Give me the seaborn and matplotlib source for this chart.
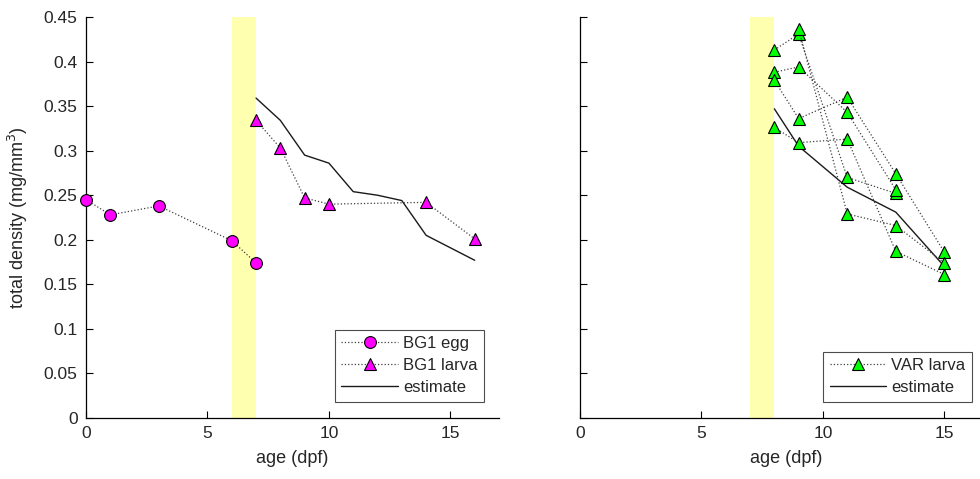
import matplotlib
matplotlib.use("Agg")
from matplotlib import pyplot as plt
from matplotlib.lines import Line2D
from matplotlib.ticker import FuncFormatter
import seaborn as sns
import numpy as np
import pandas as pd

# ---- data ----
egg_age = [0, 1, 3, 6, 7]
egg_density = [0.245, 0.228, 0.238, 0.199, 0.174]

bg1_larva_age = [7, 8, 9, 10, 14, 16]
bg1_larva_density = [0.334, 0.303, 0.247, 0.240, 0.242, 0.201]

bg1_est_age = [7, 8, 9, 10, 11, 12, 13, 14, 16]
bg1_est_density = [0.359, 0.334, 0.295, 0.286, 0.254, 0.250, 0.244, 0.205, 0.177]

# VAR larva, one list per dotted trace
var_age = {
    "a": [8, 9, 11, 13],
    "b": [8, 9, 11, 13],
    "c": [8, 9, 11, 13, 15],
    "d": [8, 9, 11, 13, 15],
    "e": [9, 11, 13, 15],
}
var_density = {
    "a": [0.413, 0.431, 0.270, 0.252],
    "b": [0.388, 0.394, 0.343, 0.256],
    "c": [0.379, 0.336, 0.360, 0.274, 0.186],
    "d": [0.326, 0.309, 0.313, 0.187, 0.161],
    "e": [0.437, 0.229, 0.216, 0.174],
}

var_est_age = [8, 9, 11, 13, 15]
var_est_density = [0.347, 0.305, 0.259, 0.231, 0.170]

bg1_window = (6, 7)
var_window = (7, 8)

# ---- style ----
sns.set_style("ticks")
plt.rcParams['font.family'] = ['Liberation Sans', 'DejaVu Sans']
plt.rcParams['font.size'] = 12.5

dot_col = (0.25, 0.25, 0.25)
est_col = (0.1, 0.1, 0.1)
pink = "#ff00ff"
green = "#00ff00"
span_col = "#ffffb0"
txt_col = (0.15, 0.15, 0.15)

circ_ms = 8.5
tri_ms = 9

fig = plt.figure(figsize=(9.8, 4.79), dpi=100)
ax1 = fig.add_axes([86 / 980, 61 / 479, 413 / 980, 401 / 479])
ax2 = fig.add_axes([580 / 980, 61 / 479, 413 / 980, 401 / 479])

fmt = FuncFormatter(lambda v, p: "%g" % round(v, 3))


def style_axes(ax, ylabels=True):
    ax.set_xlim(0, 17)
    ax.set_ylim(0, 0.45)
    ax.set_xticks([0, 5, 10, 15])
    ax.set_yticks(np.arange(0, 0.451, 0.05))
    ax.yaxis.set_major_formatter(fmt)
    if not ylabels:
        ax.set_yticklabels([])
    ax.tick_params(direction="in", length=5, width=0.8, colors="black",
                   labelcolor=txt_col, labelsize=12.5, pad=6)
    for s in ["top", "right"]:
        ax.spines[s].set_visible(False)
    for s in ["left", "bottom"]:
        ax.spines[s].set_linewidth(0.9)
        ax.spines[s].set_color("black")
    ax.set_xlabel("age (dpf)", fontsize=13, color=txt_col, labelpad=6)


def make_legend(ax, handles, labels, xanchor):
    leg = ax.legend(handles, labels, loc="lower right",
                    bbox_to_anchor=(xanchor, 0.04),
                    fancybox=False, framealpha=1, edgecolor=(0.3, 0.3, 0.3),
                    handlelength=3.4, fontsize=12, borderpad=0.4,
                    labelspacing=0.42, handletextpad=0.3, borderaxespad=0)
    leg.get_frame().set_linewidth(0.8)
    return leg


# ---- left panel: BG1 ----
ax1.axvspan(*bg1_window, color=span_col, lw=0, zorder=0)
sns.lineplot(x=egg_age, y=egg_density, ax=ax1, color=dot_col, linestyle=":",
             linewidth=0.9, marker="o", markersize=circ_ms, markerfacecolor=pink,
             markeredgecolor="black", markeredgewidth=0.8, sort=False,
             clip_on=False, zorder=3)
sns.lineplot(x=bg1_larva_age, y=bg1_larva_density, ax=ax1, color=dot_col,
             linestyle=":", linewidth=0.9, marker="^", markersize=tri_ms,
             markerfacecolor=pink, markeredgecolor="black",
             markeredgewidth=0.8, sort=False, clip_on=False, zorder=3)
sns.lineplot(x=bg1_est_age, y=bg1_est_density, ax=ax1, color=est_col,
             linewidth=1.0, sort=False)
style_axes(ax1)
ax1.set_ylabel("total density (mg/mm$^3$)", fontsize=13, color=txt_col,
               labelpad=10)

h_egg = Line2D([], [], color=dot_col, ls=":", lw=0.9, marker="o", ms=circ_ms,
               mfc=pink, mec="black", mew=0.8)
h_larva = Line2D([], [], color=dot_col, ls=":", lw=0.9, marker="^", ms=tri_ms,
                 mfc=pink, mec="black", mew=0.8)
h_est = Line2D([], [], color=est_col, lw=1.0)
make_legend(ax1, [h_egg, h_larva, h_est], ["BG1 egg", "BG1 larva", "estimate"],
            (484 - 86) / 413)

# ---- right panel: VAR ----
ax2.axvspan(*var_window, color=span_col, lw=0, zorder=0)
for key in var_age:
    sns.lineplot(x=var_age[key], y=var_density[key], ax=ax2, color=dot_col,
                 linestyle=":", linewidth=0.9, marker="^", markersize=tri_ms,
                 markerfacecolor=green, markeredgecolor="black",
                 markeredgewidth=0.8, sort=False, zorder=3)
sns.lineplot(x=var_est_age, y=var_est_density, ax=ax2, color=est_col,
             linewidth=1.0, sort=False)
style_axes(ax2, ylabels=False)

h_var = Line2D([], [], color=dot_col, ls=":", lw=0.9, marker="^", ms=tri_ms,
               mfc=green, mec="black", mew=0.8)
make_legend(ax2, [h_var, h_est], ["VAR larva", "estimate"],
            (972 - 580) / 413)

fig.savefig("out.png", dpi=100)
